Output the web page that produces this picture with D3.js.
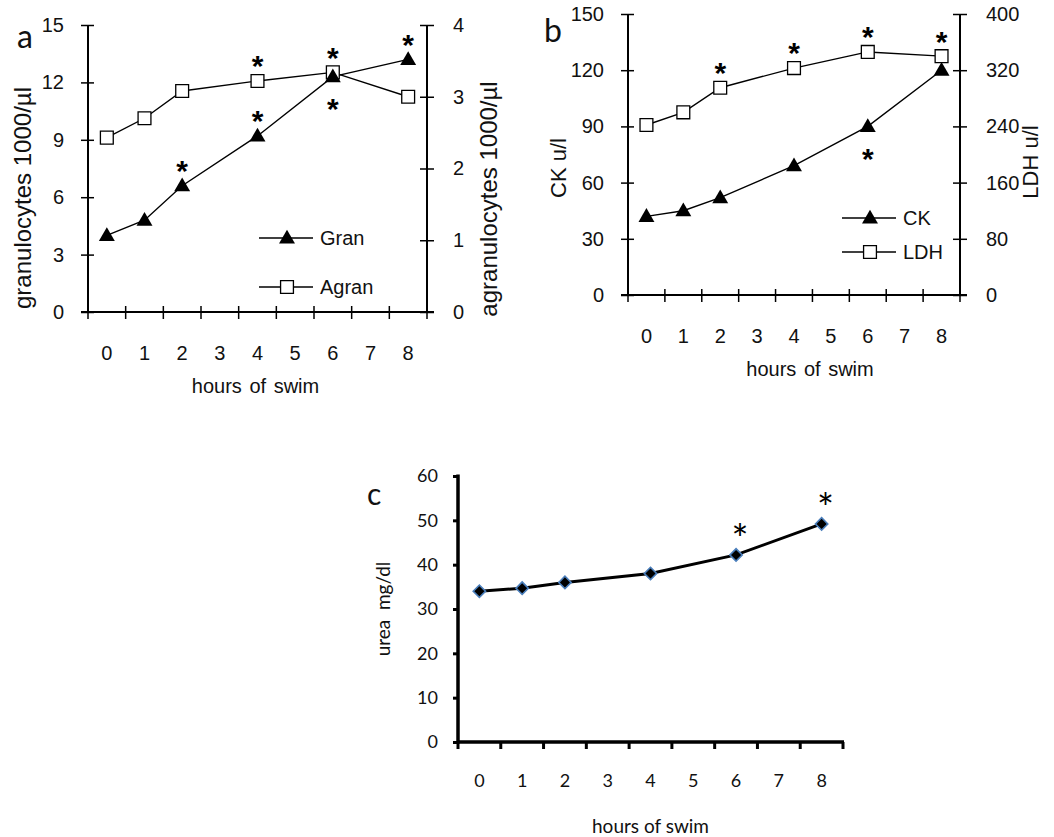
<!DOCTYPE html>
<html><head><meta charset="utf-8">
<script src="https://cdn.jsdelivr.net/npm/d3@7"></script>
<style>body{margin:0;background:#fff}svg{display:block}</style>
</head><body>
<svg id="chart" width="1054" height="837"></svg>
<script>
// ---- data ----
const categories = ["0","1","2","3","4","5","6","7","8"];
const hours = ["0","1","2","4","6","8"];
const gran  = [4.0, 4.8, 6.6, 9.2, 12.3, 13.2];
const agran = [2.43, 2.70, 3.08, 3.22, 3.34, 3.00];
const ck    = [42, 45, 52, 69, 90, 120];
const ldh   = [242, 260, 295, 323, 346, 340];
const urea  = [34, 34.7, 36, 38, 42.2, 49.2];
const ticksA_left = [0,3,6,9,12,15];
const ticksA_right = [0,1,2,3,4];
const ticksB_left = [0,30,60,90,120,150];
const ticksB_right = [0,80,160,240,320,400];
const ticksC = [0,10,20,30,40,50,60];
// significance markers: [hour, series, side]
const starsA = [["2","gran","above"],["4","agran","above"],["4","gran","above"],["6","agran","above"],["6","gran","below"],["8","gran","above"]];
const starsB = [["2","ldh","above"],["4","ldh","above"],["6","ldh","above"],["6","ck","below"],["8","ldh","above"]];
const starsC = [["6","urea","above"],["8","urea","above"]];

const svg = d3.select("#chart");
const AF = "'Liberation Sans', Arial, sans-serif";
const CF = "Lato, 'Open Sans', sans-serif";
const fmt = d3.format("d");

function panel(o){
  const g = svg.append("g");
  const x = d3.scaleBand().domain(categories).range([o.left,o.right]).paddingInner(0).paddingOuter(0);
  const yL = d3.scaleLinear().domain([0,o.maxL]).range([o.bottom,o.top]);
  const yR = o.maxR ? d3.scaleLinear().domain([0,o.maxR]).range([o.bottom,o.top]) : null;
  return {g,x,yL,yR};
}

// ============ Panels a & b ============
function dualPanel(o){
  const {g,x,yL,yR} = panel(o);
  const sw = 2;
  const TS = 20;
  const la = g.append("g").attr("transform",`translate(${o.left},0)`)
    .call(d3.axisLeft(yL).tickValues(o.ticksL).tickFormat(fmt).tickSize(6));
  la.select(".domain").remove();
  la.selectAll(".tick line").attr("x2",6).attr("x1",-7).attr("stroke","#000").attr("stroke-width",1.5);
  la.selectAll("text").attr("font-family",AF).attr("font-size",TS).attr("fill","#111").attr("x",-24);
  g.append("line").attr("x1",o.left).attr("x2",o.left).attr("y1",yL(o.maxL)).attr("y2",yL(0)).attr("stroke","#000").attr("stroke-width",sw);
  const ra = g.append("g").attr("transform",`translate(${o.right},0)`)
    .call(d3.axisRight(yR).tickValues(o.ticksR).tickFormat(fmt).tickSize(6));
  ra.select(".domain").remove();
  ra.selectAll(".tick line").attr("x1",-7).attr("x2",7).attr("stroke","#000").attr("stroke-width",1.5);
  ra.selectAll("text").attr("font-family",AF).attr("font-size",TS).attr("fill","#111").attr("x",26);
  g.append("line").attr("x1",o.right).attr("x2",o.right).attr("y1",yR(o.maxR)).attr("y2",yR(0)).attr("stroke","#000").attr("stroke-width",sw);
  g.append("line").attr("x1",o.left-7).attr("x2",o.right+7).attr("y1",o.bottom).attr("y2",o.bottom).attr("stroke","#000").attr("stroke-width",sw);
  const edges = categories.map(c=>x(c)).concat([x(categories[categories.length-1])+x.bandwidth()]);
  g.selectAll(".xt").data(edges).join("line").attr("x1",d=>d).attr("x2",d=>d)
    .attr("y1",o.bottom-6).attr("y2",o.bottom+7).attr("stroke","#000").attr("stroke-width",1.5);
  g.selectAll(".xl").data(categories).join("text").attr("x",d=>x(d)+x.bandwidth()/2).attr("y",o.bottom+48)
    .attr("text-anchor","middle").attr("font-family",AF).attr("font-size",TS).attr("fill","#111").text(d=>d);
  g.append("text").attr("x",(o.left+o.right)/2+o.titleDx).attr("y",o.bottom+81).attr("text-anchor","middle")
    .attr("font-family",AF).attr("font-size",20).attr("fill","#111").attr("word-spacing",2).text("hours of swim");
  g.append("text").attr("transform",`translate(${o.ltX},${o.ltY}) rotate(-90)`).attr("text-anchor","middle")
    .attr("font-family",AF).attr("font-size",o.titleSize).attr("fill","#111").text(o.leftTitle);
  g.append("text").attr("transform",`translate(${o.rtX},${o.rtY}) rotate(-90)`).attr("text-anchor","middle")
    .attr("font-family",AF).attr("font-size",o.titleSize).attr("fill","#111").text(o.rightTitle);
  g.append("text").attr("x",o.letX).attr("y",o.letY).attr("font-family",CF).attr("font-size",32).attr("fill","#111").text(o.letter);

  const cx = h => x(h)+x.bandwidth()/2;
  const line = (sc) => d3.line().x((d,i)=>cx(hours[i])).y(d=>sc(d));
  g.append("path").datum(o.sL).attr("d",line(yL)).attr("fill","none").attr("stroke","#000").attr("stroke-width",1.4);
  g.append("path").datum(o.sR).attr("d",line(yR)).attr("fill","none").attr("stroke","#000").attr("stroke-width",1.4);
  const tri = d3.symbol().type(d3.symbolTriangle).size(110);
  const sq = d3.symbol().type(d3.symbolSquare).size(165);
  g.selectAll(".sq").data(o.sR).join("path").attr("d",sq)
    .attr("transform",(d,i)=>`translate(${cx(hours[i])},${yR(d)})`).attr("fill","#fff").attr("stroke","#000").attr("stroke-width",1.3);
  g.selectAll(".tr").data(o.sL).join("path").attr("d",tri)
    .attr("transform",(d,i)=>`translate(${cx(hours[i])},${yL(d)+1})`).attr("fill","#000");
  const SS = 30;
  g.selectAll(".st").data(o.stars).join("text")
    .attr("x",d=>cx(d[0]))
    .attr("y",d=>{
      const i = hours.indexOf(d[0]);
      const isL = d[1]===o.nameL;
      const py = isL ? yL(o.sL[i]) : yR(o.sR[i]);
      const c = d[2]==="above" ? py-22 : py+25;
      return c+0.58*SS;
    })
    .attr("text-anchor","middle").attr("font-family",AF).attr("font-weight","bold").attr("font-size",SS).attr("fill","#000").text("*");
  o.legend.forEach((L,k)=>{
    const ly = o.legY + k*o.legGap;
    g.append("line").attr("x1",o.legX).attr("x2",o.legX+54).attr("y1",ly).attr("y2",ly).attr("stroke","#000").attr("stroke-width",1.4);
    g.append("path").attr("d",L.tri?tri():sq()).attr("transform",`translate(${o.legX+28},${ly+(L.tri?1:0)})`)
      .attr("fill",L.tri?"#000":"#fff").attr("stroke",L.tri?"none":"#000").attr("stroke-width",1.3);
    g.append("text").attr("x",o.legX+61).attr("y",ly+7).attr("font-family",AF).attr("font-size",20).attr("fill","#111").text(L.name);
  });
}

dualPanel({left:88,right:427,top:25,bottom:312,maxL:15,maxR:4,ticksL:ticksA_left,ticksR:ticksA_right,
  sL:gran,sR:agran,nameL:"gran",stars:starsA,
  leftTitle:"granulocytes 1000/µl",rightTitle:"agranulocytes 1000/µl",titleSize:24,
  ltX:31,ltY:198,rtX:497,rtY:199,letter:"a",letX:17,letY:48,titleDx:-2,
  legend:[{name:"Gran",tri:true},{name:"Agran",tri:false}],legX:259,legY:238,legGap:49});

dualPanel({left:628,right:960,top:14,bottom:295,maxL:150,maxR:400,ticksL:ticksB_left,ticksR:ticksB_right,
  sL:ck,sR:ldh,nameL:"ck",stars:starsB,
  leftTitle:"CK u/l",rightTitle:"LDH u/l",titleSize:22,
  ltX:566,ltY:168,rtX:1038,rtY:162,letter:"b",letX:544,letY:42,titleDx:16,
  legend:[{name:"CK",tri:true},{name:"LDH",tri:false}],legX:842,legY:218,legGap:34});

// ============ Panel c ============
(function(){
  const o = {left:458,right:843,top:476,bottom:742,maxL:60};
  const {g,x,yL} = panel(o);
  const la = g.append("g").attr("transform",`translate(${o.left},0)`)
    .call(d3.axisLeft(yL).tickValues(ticksC).tickSize(5));
  la.select(".domain").remove();
  la.selectAll(".tick line").attr("stroke","#000").attr("stroke-width",3);
  la.selectAll("text").attr("font-family",CF).attr("font-size",18).attr("fill","#111").attr("x",-20);
  g.append("line").attr("x1",o.left).attr("x2",o.left).attr("y1",yL(60)-1.5).attr("y2",yL(0)+1.5).attr("stroke","#000").attr("stroke-width",3.5);
  g.append("line").attr("x1",o.left).attr("x2",o.right+1).attr("y1",o.bottom).attr("y2",o.bottom).attr("stroke","#000").attr("stroke-width",3.5);
  const edges = categories.map(c=>x(c)).concat([x(categories[categories.length-1])+x.bandwidth()]);
  g.selectAll(".xt").data(edges).join("line").attr("x1",d=>d).attr("x2",d=>d)
    .attr("y1",o.bottom).attr("y2",o.bottom+7).attr("stroke","#000").attr("stroke-width",3);
  g.selectAll(".xl").data(categories).join("text").attr("x",d=>x(d)+x.bandwidth()/2).attr("y",o.bottom+45)
    .attr("text-anchor","middle").attr("font-family",CF).attr("font-size",18).attr("fill","#111").text(d=>d);
  g.append("text").attr("x",(o.left+o.right)/2).attr("y",o.bottom+91).attr("text-anchor","middle")
    .attr("font-family",CF).attr("font-size",19).attr("fill","#111").text("hours of swim");
  g.append("text").attr("transform",`translate(390,609) rotate(-90)`).attr("text-anchor","middle")
    .attr("font-family",CF).attr("font-size",19).attr("fill","#111").text("urea\u00A0\u00A0mg/dl");
  g.append("text").attr("x",367).attr("y",505).attr("font-family",CF).attr("font-size",30).attr("fill","#111").text("c");
  const cx = h => x(h)+x.bandwidth()/2;
  g.append("path").datum(urea).attr("d",d3.line().x((d,i)=>cx(hours[i])).y(d=>yL(d)))
    .attr("fill","none").attr("stroke","#000").attr("stroke-width",3);
  const sq = d3.symbol().type(d3.symbolSquare).size(76);
  g.selectAll(".dm").data(urea).join("path").attr("d",sq)
    .attr("transform",(d,i)=>`translate(${cx(hours[i])},${yL(d)}) rotate(45)`)
    .attr("fill","#000").attr("stroke","#4a7ebb").attr("stroke-width",1.6);
  const SS = 40;
  g.selectAll(".st").data(starsC).join("text")
    .attr("x",d=>cx(d[0])+4)
    .attr("y",d=>yL(urea[hours.indexOf(d[0])])-23+0.55*SS)
    .attr("text-anchor","middle").attr("font-family",CF).attr("font-size",SS).attr("fill","#000").text("*");
})();
</script>
</body></html>
